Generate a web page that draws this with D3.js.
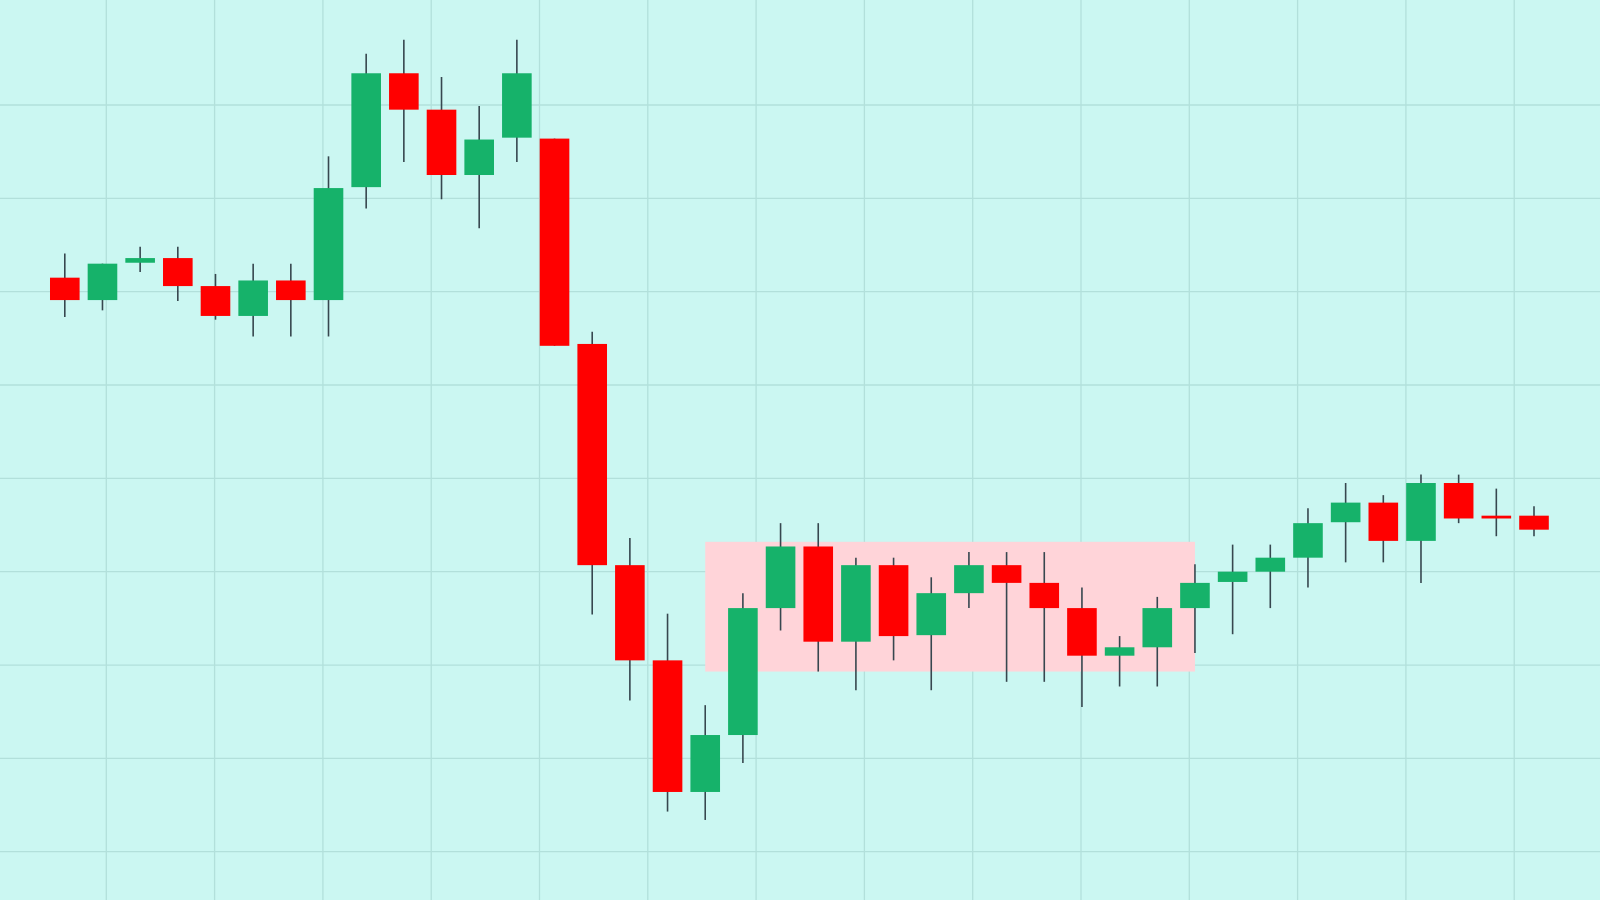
<!DOCTYPE html>
<html>
<head>
<meta charset="utf-8">
<script src="https://cdn.jsdelivr.net/npm/d3@7"></script>
<style>
  html, body { margin: 0; padding: 0; background: #cbf7f2; }
  svg { display: block; }
</style>
</head>
<body>
<svg id="chart" width="1600" height="900"></svg>
<script>
// ---- data ----
const opens  = [161.5,159.1,163.1,163.6,160.6,157.4,161.2,159.1,171.2,183.4,179.5,172.5,176.5,176.4,154.4,130.7,120.5,106.4,112.5,126.1,132.7,122.5,130.7,123.2,127.7,130.7,128.8,126.1,121.0,121.9,126.1,128.9,130.0,131.5,135.3,137.4,133.3,139.5,136.0,136.0];
const closes = [159.1,163.0,163.6,160.6,157.4,161.2,159.1,171.1,183.4,179.5,172.5,176.3,183.4,154.2,130.7,120.5,106.4,112.5,126.1,132.7,122.5,130.7,123.1,127.7,130.7,128.8,126.1,121.0,121.9,126.1,128.8,130.0,131.5,135.2,137.4,133.3,139.5,135.7,135.7,134.5];
const highs  = [164.1,163.0,164.8,164.8,161.9,163.0,163.0,174.5,185.5,187.0,183.0,179.9,187.0,176.4,155.7,133.6,125.5,115.7,127.7,135.2,135.2,131.5,131.5,129.4,132.1,132.1,132.1,128.3,123.1,127.3,130.8,132.9,132.9,136.8,139.5,138.2,140.4,140.4,138.9,137.0];
const lows   = [157.3,158.0,162.1,159.0,157.0,155.2,155.2,155.2,168.9,173.9,169.9,166.8,173.9,154.2,125.4,116.2,104.3,103.4,109.5,123.7,119.3,117.3,120.5,117.3,126.1,118.2,118.2,115.5,117.7,117.7,121.3,123.3,126.1,128.3,131.0,131.0,128.8,135.2,133.8,133.8];
const priceTicks = [100,110,120,130,140,150,160,170,180];
const zoneStart = 17, zoneEnd = 30;      // candle indices
const zoneHigh = 133.2, zoneLow = 119.3; // prices

const W = 1600, H = 900;
const svg = d3.select('#chart');

const idx = d3.range(opens.length);
const x = d3.scalePoint().domain(idx).range([64.8, 1534]);
const y = d3.scaleLinear().domain([100, 180]).range([851.7, 105]);
const xGrid = d3.scaleLinear().domain([0, 13]).range([106.3, 1514.2]);
const bodyW = x.step() * 0.786;

// background
svg.append('rect').attr('width', W).attr('height', H).attr('fill', '#cbf7f2');

// grid
const g = svg.append('g').attr('stroke', '#b2e0db').attr('stroke-width', 1.3);
g.selectAll('line.v').data(d3.range(14)).join('line')
  .attr('x1', d => xGrid(d)).attr('x2', d => xGrid(d))
  .attr('y1', 0).attr('y2', H);
g.selectAll('line.h').data(priceTicks).join('line')
  .attr('x1', 0).attr('x2', W)
  .attr('y1', d => y(d)).attr('y2', d => y(d));

// consolidation zone
svg.append('rect')
  .attr('x', x(zoneStart)).attr('width', x(zoneEnd) - x(zoneStart))
  .attr('y', y(zoneHigh)).attr('height', y(zoneLow) - y(zoneHigh))
  .attr('fill', '#ffd4d9');

// candles
const c = svg.append('g').selectAll('g').data(idx).join('g');
c.append('line')
  .attr('x1', i => x(i)).attr('x2', i => x(i))
  .attr('y1', i => y(highs[i])).attr('y2', i => y(lows[i]))
  .attr('stroke', '#37474f').attr('stroke-width', 1.6);
c.append('rect')
  .attr('x', i => x(i) - bodyW / 2).attr('width', bodyW)
  .attr('y', i => y(Math.max(opens[i], closes[i])))
  .attr('height', i => Math.max(2.5, Math.abs(y(opens[i]) - y(closes[i]))))
  .attr('fill', i => closes[i] >= opens[i] ? '#16b26a' : '#ff0000');
</script>
</body>
</html>
